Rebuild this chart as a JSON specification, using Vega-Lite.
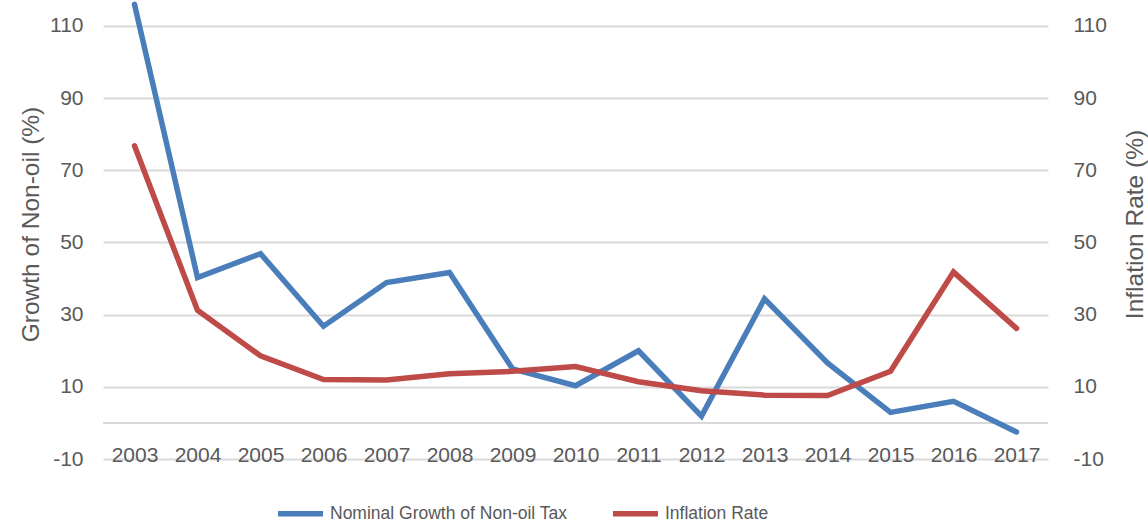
{
  "$schema": "https://vega.github.io/schema/vega-lite/v6.json",
  "autosize": {"type": "none"},
  "width": 945,
  "height": 459,
  "padding": {"left": 103, "top": 0, "right": 100, "bottom": 63},
  "background": "white",
  "config": {
    "view": {"stroke": null},
    "font": "Liberation Sans",
    "axis": {"labelFont": "Liberation Sans", "titleFont": "Liberation Sans", "labelColor": "#595959", "titleColor": "#595959", "titleFontWeight": "normal"},
    "legend": {"labelFont": "Liberation Sans", "labelColor": "#595959"}
  },
  "data": {
    "values": [
      {"year": "2003", "series": "Nominal Growth of Non-oil Tax", "value": 116.0},
      {"year": "2004", "series": "Nominal Growth of Non-oil Tax", "value": 40.3},
      {"year": "2005", "series": "Nominal Growth of Non-oil Tax", "value": 46.9},
      {"year": "2006", "series": "Nominal Growth of Non-oil Tax", "value": 26.8},
      {"year": "2007", "series": "Nominal Growth of Non-oil Tax", "value": 38.9},
      {"year": "2008", "series": "Nominal Growth of Non-oil Tax", "value": 41.7},
      {"year": "2009", "series": "Nominal Growth of Non-oil Tax", "value": 15.0},
      {"year": "2010", "series": "Nominal Growth of Non-oil Tax", "value": 10.3},
      {"year": "2011", "series": "Nominal Growth of Non-oil Tax", "value": 20.0},
      {"year": "2012", "series": "Nominal Growth of Non-oil Tax", "value": 1.9},
      {"year": "2013", "series": "Nominal Growth of Non-oil Tax", "value": 34.4},
      {"year": "2014", "series": "Nominal Growth of Non-oil Tax", "value": 16.6},
      {"year": "2015", "series": "Nominal Growth of Non-oil Tax", "value": 2.9},
      {"year": "2016", "series": "Nominal Growth of Non-oil Tax", "value": 6.0},
      {"year": "2017", "series": "Nominal Growth of Non-oil Tax", "value": -2.5},
      {"year": "2003", "series": "Inflation Rate", "value": 76.8},
      {"year": "2004", "series": "Inflation Rate", "value": 31.2},
      {"year": "2005", "series": "Inflation Rate", "value": 18.6},
      {"year": "2006", "series": "Inflation Rate", "value": 12.0},
      {"year": "2007", "series": "Inflation Rate", "value": 11.9},
      {"year": "2008", "series": "Inflation Rate", "value": 13.6},
      {"year": "2009", "series": "Inflation Rate", "value": 14.3},
      {"year": "2010", "series": "Inflation Rate", "value": 15.6},
      {"year": "2011", "series": "Inflation Rate", "value": 11.4},
      {"year": "2012", "series": "Inflation Rate", "value": 8.9},
      {"year": "2013", "series": "Inflation Rate", "value": 7.7},
      {"year": "2014", "series": "Inflation Rate", "value": 7.6},
      {"year": "2015", "series": "Inflation Rate", "value": 14.3},
      {"year": "2016", "series": "Inflation Rate", "value": 41.8},
      {"year": "2017", "series": "Inflation Rate", "value": 26.2}
    ]
  },
  "encoding": {
    "x": {
      "field": "year",
      "type": "ordinal",
      "scale": {"type": "point", "padding": 0.5},
      "axis": {"title": null, "labelAngle": 0, "domain": false, "ticks": false, "labelFontSize": 21, "labelPadding": -4, "labelBaseline": "middle", "grid": false}
    }
  },
  "layer": [
    {
      "mark": {"type": "rule", "color": "#d9d9d9", "strokeWidth": 2},
      "encoding": {
        "x": null,
        "y": {"datum": 0, "type": "quantitative", "scale": {"domain": [-10, 117.2], "nice": false, "zero": false}, "axis": null}
      }
    },
    {
      "transform": [{"filter": "datum.series === 'Nominal Growth of Non-oil Tax'"}],
      "mark": {"type": "line", "strokeWidth": 5.5, "strokeCap": "round", "strokeJoin": "miter"},
      "encoding": {
        "y": {
          "field": "value", "type": "quantitative",
          "scale": {"domain": [-10, 117.2], "nice": false, "zero": false},
          "axis": {"orient": "left", "title": "Growth of Non-oil (%)", "values": [-10, 10, 30, 50, 70, 90, 110], "labelExpr": "toString(datum.value)", "grid": true, "gridColor": "#d9d9d9", "gridWidth": 2, "domain": false, "ticks": false, "labelFontSize": 21, "labelPadding": 20, "titleFontSize": 24.5, "titleAngle": 270, "titleX": -72, "titleY": 224, "titleAlign": "center", "titleBaseline": "middle"}
        },
        "color": {
          "field": "series", "type": "nominal",
          "scale": {"domain": ["Nominal Growth of Non-oil Tax", "Inflation Rate"], "range": ["#4a7ebb", "#be4b48"]},
          "legend": {"orient": "none", "legendX": 172, "legendY": 488, "direction": "horizontal", "title": null, "symbolType": "stroke", "symbolSize": 2025, "symbolStrokeWidth": 5.5, "labelFontSize": 17.5, "labelOffset": 4, "columnPadding": 34, "labelLimit": 500, "padding": 0}
        }
      }
    },
    {
      "transform": [{"filter": "datum.series === 'Inflation Rate'"}],
      "mark": {"type": "line", "strokeWidth": 5.5, "strokeCap": "round", "strokeJoin": "miter"},
      "encoding": {
        "y": {
          "field": "value", "type": "quantitative",
          "scale": {"domain": [-10, 117.2], "nice": false, "zero": false},
          "axis": {"orient": "right", "title": "Inflation Rate (%)", "values": [-10, 10, 30, 50, 70, 90, 110], "labelExpr": "toString(datum.value)", "grid": false, "domain": false, "ticks": false, "labelFontSize": 21, "labelPadding": 25, "titleFontSize": 24.5, "titleAngle": 270, "titleX": 87, "titleY": 224, "titleAlign": "center", "titleBaseline": "middle"}
        },
        "color": {"field": "series", "type": "nominal"}
      }
    }
  ],
  "resolve": {"scale": {"y": "independent"}}
}
